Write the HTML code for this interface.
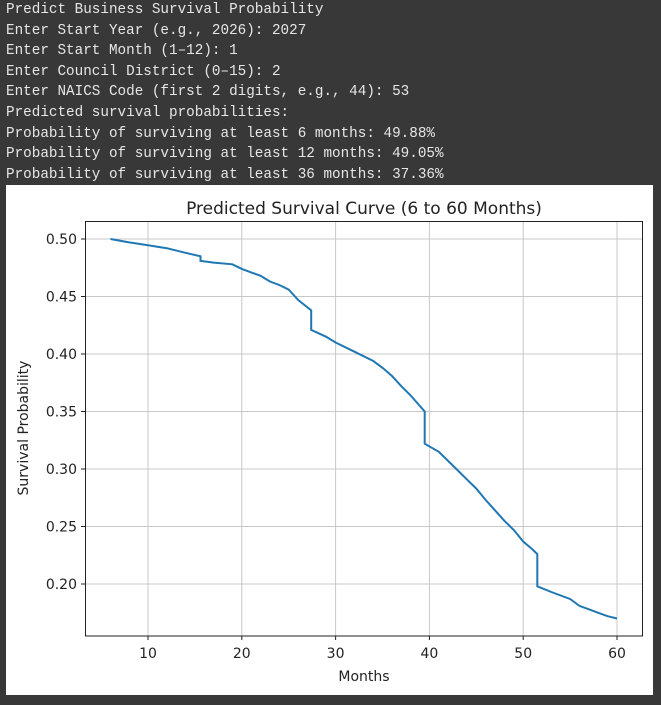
<!DOCTYPE html>
<html><head><meta charset="utf-8"><style>
body{margin:0;background:#383838;width:661px;height:705px;overflow:hidden;position:relative}
.con{position:absolute;left:6px;top:0;font-family:"Liberation Mono",monospace;font-size:14.3px;line-height:20.6px;color:#e6e6e6;white-space:pre}
svg{position:absolute;left:0;top:0}
text{font-family:"DejaVu Sans","Liberation Sans",sans-serif;fill:#222}
</style></head><body>
<div class="con"><div>Predict Business Survival Probability</div><div>Enter Start Year (e.g., 2026): 2027</div><div>Enter Start Month (1–12): 1</div><div>Enter Council District (0–15): 2</div><div>Enter NAICS Code (first 2 digits, e.g., 44): 53</div><div>Predicted survival probabilities:</div><div>Probability of surviving at least 6 months: 49.88%</div><div>Probability of surviving at least 12 months: 49.05%</div><div>Probability of surviving at least 36 months: 37.36%</div></div>
<svg id="chart" width="661" height="705">
<rect x="6" y="185" width="647" height="510" fill="#fff"/>
<g id="grid"></g>
<g id="ticks"></g>
<path id="curve" fill="none" stroke="#1f77b4" stroke-width="2"/>
<rect x="85.5" y="221.5" width="557" height="414.5" fill="none" stroke="#222" stroke-width="1"/>
<text x="364" y="214" font-size="17" text-anchor="middle">Predicted Survival Curve (6 to 60 Months)</text>
<text x="364" y="681" font-size="14" text-anchor="middle">Months</text>
<text transform="translate(28,428) rotate(-90)" font-size="14" text-anchor="middle">Survival Probability</text>
</svg>
<script>
const xTicks=[10,20,30,40,50,60];
const yTicks=[0.20,0.25,0.30,0.35,0.40,0.45,0.50];
const months=[6,8,10,12,14,15.6,15.6,17,19,20,21,22,23,24,25,26,27.4,27.4,29,30,32,34,35,36,37,38,39.5,39.5,41,42,43,44,45,46,47,48,49,50,51,51.5,51.5,53,55,56,57,58,59,60];
const survival=[0.500,0.497,0.4945,0.492,0.488,0.485,0.481,0.4795,0.478,0.474,0.471,0.468,0.463,0.460,0.456,0.447,0.438,0.421,0.415,0.410,0.402,0.394,0.388,0.381,0.372,0.364,0.350,0.322,0.315,0.307,0.299,0.291,0.283,0.273,0.264,0.255,0.247,0.237,0.230,0.226,0.198,0.193,0.187,0.181,0.178,0.175,0.172,0.170];
const X=m=>148+(m-10)*9.38;
const Y=v=>239+(0.50-v)*1150;
const NS='http://www.w3.org/2000/svg';
const grid=document.getElementById('grid'),ticks=document.getElementById('ticks');
function mk(t,a,p){const e=document.createElementNS(NS,t);for(const k in a)e.setAttribute(k,a[k]);p.appendChild(e);return e;}
xTicks.forEach(t=>{const x=X(t);
const g=mk('line',{x1:x,x2:x,y1:221,y2:636,stroke:'#c8c8c8','stroke-width':1},grid);


const tk=mk('line',{x1:x,x2:x,y1:636,y2:640,stroke:'#222'},ticks);


const l=mk('text',{x:x,y:658,'font-size':14,'text-anchor':'middle'},ticks);l.textContent=t;

});
yTicks.forEach(t=>{const y=Y(t);
const g=mk('line',{x1:86,x2:642,y1:y,y2:y,stroke:'#c8c8c8','stroke-width':1},grid);


const tk=mk('line',{x1:81,x2:86,y1:y,y2:y,stroke:'#222'},ticks);


const l=mk('text',{x:77,y:y+5,'font-size':14,'text-anchor':'end'},ticks);l.textContent=t.toFixed(2);

});
document.getElementById('curve').setAttribute('d',months.map((m,i)=>(i?'L':'M')+X(m).toFixed(1)+','+Y(survival[i]).toFixed(1)).join(' '));
</script>
</body></html>
